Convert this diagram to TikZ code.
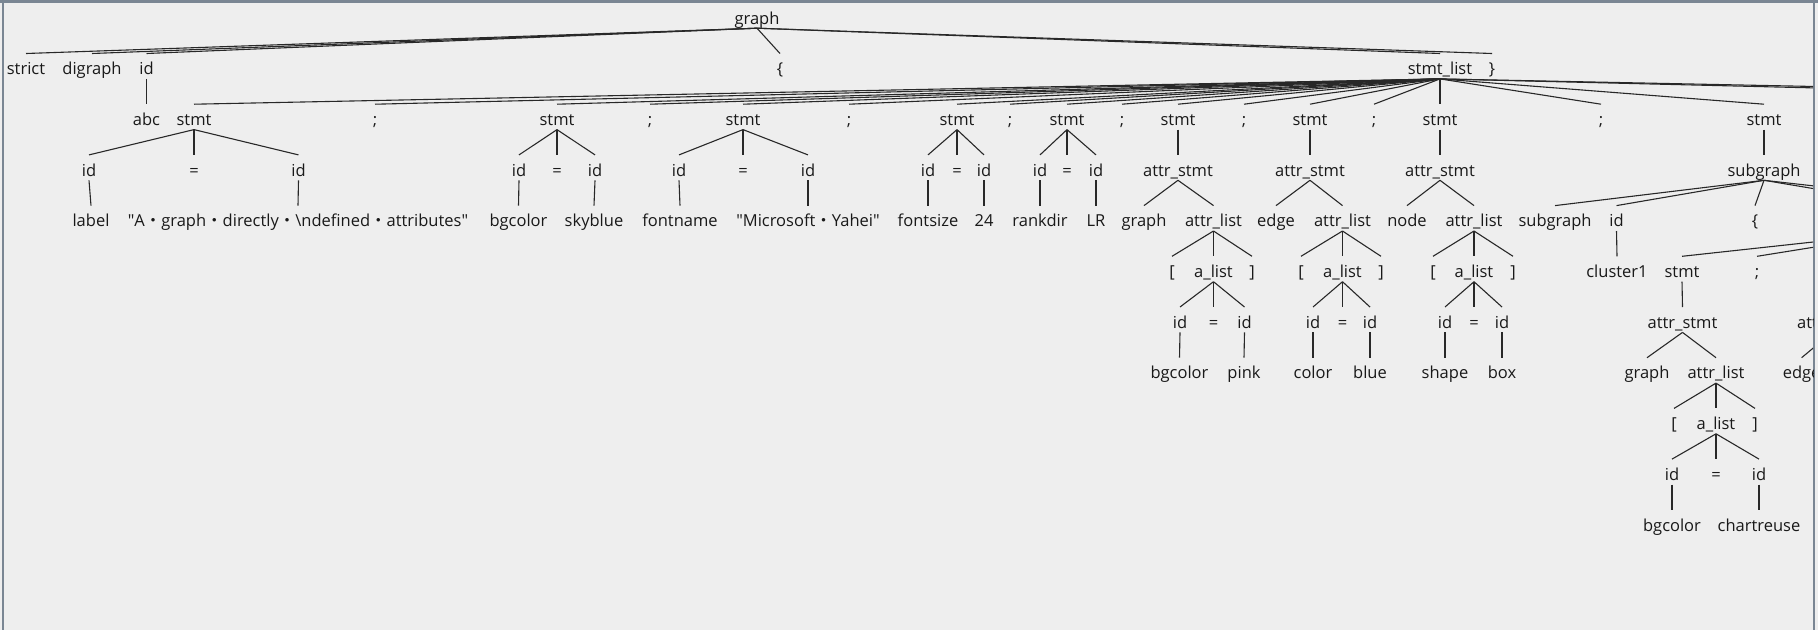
\documentclass[tikz,border=0pt]{standalone}
\usepackage{fontspec}
\setmainfont{Open Sans}
\newfontfamily\cjk{Noto Sans CJK SC}
\definecolor{panel}{RGB}{238,238,238}
\definecolor{frame}{RGB}{122,134,147}
\definecolor{wire}{RGB}{40,40,40}

\begin{document}
\begin{tikzpicture}[x=1pt, y=-1pt, font=\fontsize{16.5}{19}\selectfont,
   every node/.style={anchor=base, inner sep=0pt, text height=21pt, text depth=4pt, text=black!90},
   every edge/.style={draw=wire, line width=1.1pt}]

   \useasboundingbox (0,0) rectangle (1818,630);
   \fill[panel] (0,0) rectangle (1818,630);
   \draw[frame, line width=2.5pt] (0,1.25) -- (1818,1.25);
   \draw[frame, line width=2pt] (3,0) -- (3,630);
   \draw[frame, line width=2pt] (1814,0) -- (1814,630);

   \begin{scope}
   \clip (4,2.5) rectangle (1813,630);

   \node (graph) at (757,24) {graph};

   \node (strict) at (26,74.7) {strict};
   \node (digraph) at (92,74.7) {digraph};
   \node (gid) at (146.5,74.7) {id};
   \node (lbr) at (780,74.7) {\{};
   \node (slist) at (1440,74.7) {stmt\_list};
   \node (rbr) at (1492,74.7) {\}};

   \node (abc) at (146.5,125.4) {abc};
   \node (st1) at (194,125.4) {stmt};
   \node (sm1) at (375,125.4) {;};
   \node (st2) at (557,125.4) {stmt};
   \node (sm2) at (650,125.4) {;};
   \node (st3) at (743,125.4) {stmt};
   \node (sm3) at (849,125.4) {;};
   \node (st4) at (957,125.4) {stmt};
   \node (sm4) at (1010,125.4) {;};
   \node (st5) at (1067,125.4) {stmt};
   \node (sm5) at (1122,125.4) {;};
   \node (st6) at (1178,125.4) {stmt};
   \node (sm6) at (1244,125.4) {;};
   \node (st7) at (1310,125.4) {stmt};
   \node (sm7) at (1374,125.4) {;};
   \node (st8) at (1440,125.4) {stmt};
   \node (sm8) at (1601,125.4) {;};
   \node (st9) at (1764,125.4) {stmt};
   \coordinate (more1) at (2500,104.4);
   \coordinate (more2) at (2700,104.4);

   \node (st1a) at (89,176.1) {id};
   \node (st1b) at (194,176.1) {=};
   \node (st1c) at (298.5,176.1) {id};
   \node (st2a) at (519,176.1) {id};
   \node (st2b) at (557,176.1) {=};
   \node (st2c) at (595,176.1) {id};
   \node (st3a) at (679,176.1) {id};
   \node (st3b) at (743,176.1) {=};
   \node (st3c) at (808,176.1) {id};
   \node (st4a) at (928,176.1) {id};
   \node (st4b) at (957,176.1) {=};
   \node (st4c) at (984,176.1) {id};
   \node (st5a) at (1040,176.1) {id};
   \node (st5b) at (1067,176.1) {=};
   \node (st5c) at (1096,176.1) {id};
   \node (as6) at (1178,176.1) {attr\_stmt};
   \node (as7) at (1310,176.1) {attr\_stmt};
   \node (as8) at (1440,176.1) {attr\_stmt};
   \node (sg) at (1764,176.1) {subgraph};

   \node (v1a) at (91,226.8) {label};
   \node (v1c) at (298,226.8) {\textquotedbl A{\cjk ・}graph{\cjk ・}directly{\cjk ・}\textbackslash ndefined{\cjk ・}attributes\textquotedbl};
   \node (v2a) at (518.5,226.8) {bgcolor};
   \node (v2c) at (594,226.8) {skyblue};
   \node (v3a) at (680,226.8) {fontname};
   \node (v3c) at (808,226.8) {\textquotedbl Microsoft{\cjk ・}Yahei\textquotedbl};
   \node (v4a) at (928,226.8) {fontsize};
   \node (v4c) at (984,226.8) {24};
   \node (v5a) at (1040,226.8) {rankdir};
   \node (v5c) at (1096,226.8) {LR};
   \node (kw6) at (1144,226.8) {graph};
   \node (al6) at (1213.5,226.8) {attr\_list};
   \node (kw7) at (1276,226.8) {edge};
   \node (al7) at (1342.5,226.8) {attr\_list};
   \node (kw8) at (1407,226.8) {node};
   \node (al8) at (1474,226.8) {attr\_list};
   \node (sgkw) at (1555,226.8) {subgraph};
   \node (sgid) at (1616.5,226.8) {id};
   \node (sglb) at (1755,226.8) {\{};
   \coordinate (sgl) at (1916,205.8);
   \coordinate (sgl') at (1916,230.8);
   \coordinate (sgr) at (1990,205.8);

   \node (lb6) at (1172,277.5) {[};
   \node (ls6) at (1213.5,277.5) {a\_list};
   \node (rb6) at (1252,277.5) {]};
   \node (lb7) at (1301,277.5) {[};
   \node (ls7) at (1342.5,277.5) {a\_list};
   \node (rb7) at (1381,277.5) {]};
   \node (lb8) at (1433,277.5) {[};
   \node (ls8) at (1474,277.5) {a\_list};
   \node (rb8) at (1513,277.5) {]};
   \node (cl1) at (1617,277.5) {cluster1};
   \node (sst1) at (1682,277.5) {stmt};
   \node (ssm1) at (1757,277.5) {;};

   \node (ls6a) at (1180,328.2) {id};
   \node (ls6b) at (1213.5,328.2) {=};
   \node (ls6c) at (1244.5,328.2) {id};
   \node (ls7a) at (1313,328.2) {id};
   \node (ls7b) at (1342.5,328.2) {=};
   \node (ls7c) at (1370,328.2) {id};
   \node (ls8a) at (1445,328.2) {id};
   \node (ls8b) at (1474,328.2) {=};
   \node (ls8c) at (1502,328.2) {id};
   \node (sas1) at (1682.5,328.2) {attr\_stmt};
   \node (sas2) at (1832,328.2) {attr\_stmt};

   \node (v6a) at (1179.5,378.9) {bgcolor};
   \node (v6c) at (1244,378.9) {pink};
   \node (v7a) at (1313,378.9) {color};
   \node (v7c) at (1370,378.9) {blue};
   \node (v8a) at (1445,378.9) {shape};
   \node (v8c) at (1502,378.9) {box};
   \node (skw1) at (1647,378.9) {graph};
   \node (sal1) at (1716,378.9) {attr\_list};
   \node (skw2) at (1801.6,378.9) {edge};

   \node (slbr) at (1674,429.6) {[};
   \node (sls) at (1716,429.6) {a\_list};
   \node (srbr) at (1755,429.6) {]};

   \node (slsa) at (1672,480.3) {id};
   \node (slsb) at (1716,480.3) {=};
   \node (slsc) at (1759,480.3) {id};

   \node (sva) at (1672,531) {bgcolor};
   \node (svc) at (1759,531) {chartreuse};

   \path[-] (graph.south) edge (strict.north) edge (digraph.north) edge (gid.north)
      edge (lbr.north) edge (slist.north) edge (rbr.north);
   \path[-] (gid.south) edge (abc.north);
   \path[-] (slist.south) edge (st1.north) edge (sm1.north) edge (st2.north) edge (sm2.north)
      edge (st3.north) edge (sm3.north) edge (st4.north) edge (sm4.north)
      edge (st5.north) edge (sm5.north) edge (st6.north) edge (sm6.north)
      edge (st7.north) edge (sm7.north) edge (st8.north) edge (sm8.north)
      edge (st9.north) edge (more1) edge (more2);

   \path[-] (st1.south) edge (st1a.north) edge (st1b.north) edge (st1c.north);
   \path[-] (st2.south) edge (st2a.north) edge (st2b.north) edge (st2c.north);
   \path[-] (st3.south) edge (st3a.north) edge (st3b.north) edge (st3c.north);
   \path[-] (st4.south) edge (st4a.north) edge (st4b.north) edge (st4c.north);
   \path[-] (st5.south) edge (st5a.north) edge (st5b.north) edge (st5c.north);
   \path[-] (st6.south) edge (as6.north);
   \path[-] (st7.south) edge (as7.north);
   \path[-] (st8.south) edge (as8.north);
   \path[-] (st9.south) edge (sg.north);

   \path[-] (st1a.south) edge (v1a.north);
   \path[-] (st1c.south) edge (v1c.north);
   \path[-] (st2a.south) edge (v2a.north);
   \path[-] (st2c.south) edge (v2c.north);
   \path[-] (st3a.south) edge (v3a.north);
   \path[-] (st3c.south) edge (v3c.north);
   \path[-] (st4a.south) edge (v4a.north);
   \path[-] (st4c.south) edge (v4c.north);
   \path[-] (st5a.south) edge (v5a.north);
   \path[-] (st5c.south) edge (v5c.north);
   \path[-] (as6.south) edge (kw6.north) edge (al6.north);
   \path[-] (as7.south) edge (kw7.north) edge (al7.north);
   \path[-] (as8.south) edge (kw8.north) edge (al8.north);
   \path[-] (sg.south) edge (sgkw.north) edge (sgid.north) edge (sglb.north) edge (sgl) edge (sgr);

   \path[-] (al6.south) edge (lb6.north) edge (ls6.north) edge (rb6.north);
   \path[-] (al7.south) edge (lb7.north) edge (ls7.north) edge (rb7.north);
   \path[-] (al8.south) edge (lb8.north) edge (ls8.north) edge (rb8.north);
   \path[-] (sgid.south) edge (cl1.north);
   \path[-] (sgl') edge (sst1.north) edge (ssm1.north);

   \path[-] (ls6.south) edge (ls6a.north) edge (ls6b.north) edge (ls6c.north);
   \path[-] (ls7.south) edge (ls7a.north) edge (ls7b.north) edge (ls7c.north);
   \path[-] (ls8.south) edge (ls8a.north) edge (ls8b.north) edge (ls8c.north);
   \path[-] (sst1.south) edge (sas1.north);

   \path[-] (ls6a.south) edge (v6a.north);
   \path[-] (ls6c.south) edge (v6c.north);
   \path[-] (ls7a.south) edge (v7a.north);
   \path[-] (ls7c.south) edge (v7c.north);
   \path[-] (ls8a.south) edge (v8a.north);
   \path[-] (ls8c.south) edge (v8c.north);
   \path[-] (sas1.south) edge (skw1.north) edge (sal1.north);
   \path[-] (sas2.south) edge (skw2.north);

   \path[-] (sal1.south) edge (slbr.north) edge (sls.north) edge (srbr.north);
   \path[-] (sls.south) edge (slsa.north) edge (slsb.north) edge (slsc.north);
   \path[-] (slsa.south) edge (sva.north);
   \path[-] (slsc.south) edge (svc.north);
   \end{scope}

\end{tikzpicture}
\end{document}
